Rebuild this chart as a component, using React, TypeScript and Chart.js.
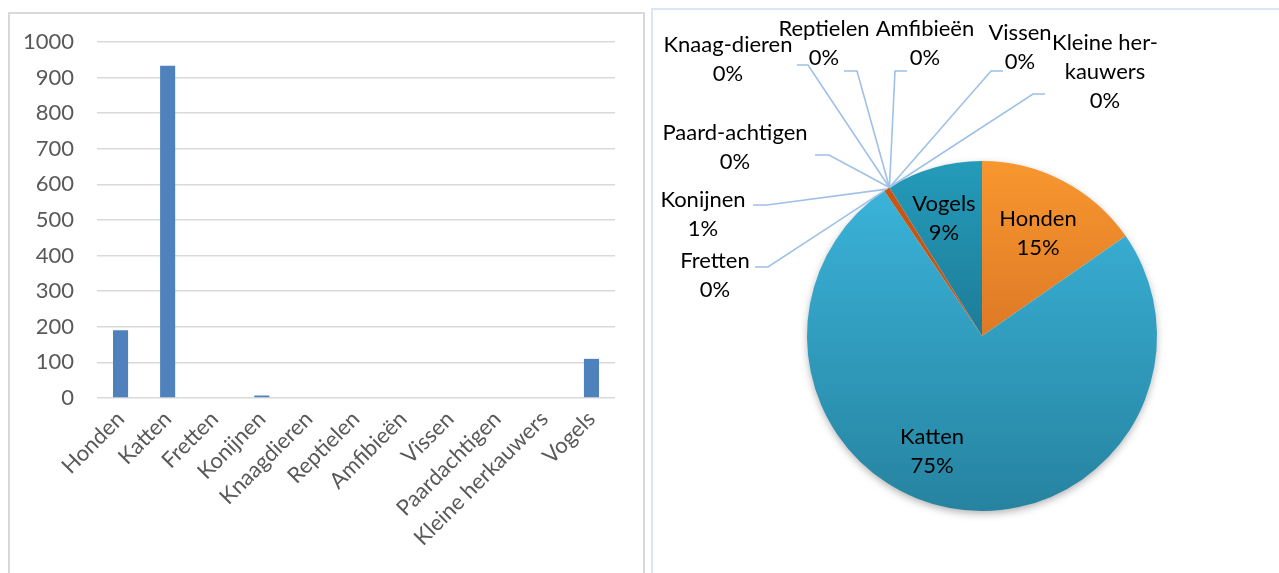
import React, { useEffect, useRef } from "react";
import { Chart, registerables } from "chart.js";

Chart.register(...registerables);

// ---------- data ----------
const categories = [
  "Honden",
  "Katten",
  "Fretten",
  "Konijnen",
  "Knaagdieren",
  "Reptielen",
  "Amfibieën",
  "Vissen",
  "Paardachtigen",
  "Kleine herkauwers",
  "Vogels",
];
const counts = [190, 933, 0, 7, 0, 0, 0, 0, 0, 0, 110];
const yTicks = [0, 100, 200, 300, 400, 500, 600, 700, 800, 900, 1000];
const pieLabelLines = [
  ["Honden"],
  ["Katten"],
  ["Fretten"],
  ["Konijnen"],
  ["Knaag-dieren"],
  ["Reptielen"],
  ["Amfibieën"],
  ["Vissen"],
  ["Paard-achtigen"],
  ["Kleine her-", "kauwers"],
  ["Vogels"],
];

// ---------- styles / layout ----------
const FONT = "Lato";
const barColor = "#4f81bd";
// gradient colours per slice [top, bottom]
const sliceGradients: [string, string][] = [
  ["#f8972f", "#c45b1c"],
  ["#3cb7de", "#2683a0"],
  ["#c55a11", "#c55a11"],
  ["#c85512", "#c85512"],
  ["#8a8a8a", "#8a8a8a"],
  ["#8a8a8a", "#8a8a8a"],
  ["#8a8a8a", "#8a8a8a"],
  ["#8a8a8a", "#8a8a8a"],
  ["#8a8a8a", "#8a8a8a"],
  ["#8a8a8a", "#8a8a8a"],
  ["#249bba", "#165d75"],
];
// label placement relative to pie centre: text centre (first line) and leader elbow segment [x1, x2, y]
const labelLayout: { tx: number; ty: number; seg?: [number, number, number] }[] = [
  { tx: 56, ty: -117 },
  { tx: -50, ty: 101 },
  { tx: -267, ty: -75, seg: [-227, -214, -69] },
  { tx: -279, ty: -136, seg: [-229, -215, -131] },
  { tx: -254, ty: -291, seg: [-185, -174, -271] },
  { tx: -158, ty: -307, seg: [-138, -125, -265] },
  { tx: -57, ty: -307, seg: [-75, -87, -265] },
  { tx: 38, ty: -303, seg: [21, 9, -265] },
  { tx: -247, ty: -203, seg: [-167, -153, -181] },
  { tx: 123, ty: -293, seg: [63, 51, -242] },
  { tx: -38, ty: -132 },
];

function BarChart() {
  const ref = useRef<HTMLCanvasElement>(null);
  useEffect(() => {
    const chart = new Chart(ref.current!, {
      type: "bar",
      data: {
        labels: categories,
        datasets: [
          {
            data: counts,
            backgroundColor: barColor,
            categoryPercentage: 1,
            barPercentage: 0.32,
          },
        ],
      },
      options: {
        animation: false,
        responsive: false,
        devicePixelRatio: 1,
        layout: { padding: { top: 28, right: 28, left: 0, bottom: 0 } },
        plugins: { legend: { display: false }, tooltip: { enabled: false } },
        scales: {
          x: {
            grid: { display: false, drawTicks: false },
            border: { display: false },
            ticks: {
              color: "#595959",
              font: { family: FONT, size: 22 },
              maxRotation: 45,
              minRotation: 45,
              autoSkip: false,
              padding: 8,
            },
            afterFit: (s: any) => {
              s.height = 175;
            },
          },
          y: {
            min: 0,
            max: 1000,
            grid: { color: "#d9d9d9", lineWidth: 1.6, drawTicks: false },
            border: { display: false },
            afterBuildTicks: (s: any) => {
              s.ticks = yTicks.map((v) => ({ value: v }));
            },
            ticks: {
              color: "#595959",
              font: { family: FONT, size: 22 },
              padding: 23,
              callback: (v: any) => String(v),
            },
            afterFit: (s: any) => {
              s.width = 87;
              s.paddingTop = 0;
              s.paddingBottom = 0;
            },
          },
        },
      },
    } as any);
    return () => chart.destroy();
  }, []);
  return (
    <canvas
      ref={ref}
      width={633}
      height={559}
      style={{ position: "absolute", left: 10, top: 14, width: 633, height: 559 }}
    />
  );
}

function PieChart() {
  const ref = useRef<HTMLCanvasElement>(null);
  useEffect(() => {
    const total = counts.reduce((a, b) => a + b, 0);
    const gradFor = (ctx: any) => {
      const chart = ctx.chart;
      const i = ctx.dataIndex ?? 0;
      const area = chart.chartArea;
      const [c1, c2] = sliceGradients[i];
      if (!area) return c1;
      const g = chart.ctx.createLinearGradient(0, area.top, 0, area.bottom);
      g.addColorStop(0, c1);
      g.addColorStop(1, c2);
      return g;
    };
    const labelPlugin = {
      id: "pieLabels",
      beforeDatasetsDraw(chart: any) {
        const meta = chart.getDatasetMeta(0);
        const a = meta.data[0];
        if (!a) return;
        const c = chart.ctx;
        c.save();
        c.shadowColor = "rgba(0,0,0,0.35)";
        c.shadowBlur = 8;
        c.shadowOffsetY = 3;
        c.fillStyle = "#ffffff";
        c.beginPath();
        c.arc(a.x, a.y, a.outerRadius - 1, 0, Math.PI * 2);
        c.fill();
        c.restore();
      },
      afterDatasetsDraw(chart: any) {
        const meta = chart.getDatasetMeta(0);
        const c = chart.ctx;
        c.save();
        meta.data.forEach((arc: any, i: number) => {
          const lay = labelLayout[i];
          const cx = arc.x;
          const cy = arc.y;
          if (lay.seg) {
            const ang = (arc.startAngle + arc.endAngle) / 2;
            const ax = cx + arc.outerRadius * Math.cos(ang);
            const ay = cy + arc.outerRadius * Math.sin(ang);
            c.strokeStyle = "#9fc0e8";
            c.lineWidth = 1.6;
            c.beginPath();
            c.moveTo(cx + lay.seg[0], cy + lay.seg[2]);
            c.lineTo(cx + lay.seg[1], cy + lay.seg[2]);
            c.lineTo(ax, ay);
            c.stroke();
          }
        });
        c.fillStyle = "#000000";
        c.font = `22px ${FONT}`;
        c.textAlign = "center";
        c.textBaseline = "middle";
        meta.data.forEach((arc: any, i: number) => {
          const lay = labelLayout[i];
          const pct = Math.round((counts[i] / total) * 100) + "%";
          const lines = [...pieLabelLines[i], pct];
          lines.forEach((t, k) => {
            c.fillText(t, arc.x + lay.tx, arc.y + lay.ty + k * 29);
          });
        });
        c.restore();
      },
    };
    const chart = new Chart(ref.current!, {
      type: "pie",
      data: {
        labels: pieLabelLines.map((l) => l.join("")),
        datasets: [
          {
            data: counts,
            backgroundColor: gradFor,
            borderWidth: 0,
          },
        ],
      },
      options: {
        animation: false,
        responsive: false,
        devicePixelRatio: 1,
        layout: { padding: { left: 154, top: 151, right: 122, bottom: 62 } },
        plugins: { legend: { display: false }, tooltip: { enabled: false } },
      },
      plugins: [labelPlugin],
    } as any);
    return () => chart.destroy();
  }, []);
  return (
    <canvas
      ref={ref}
      width={626}
      height={563}
      style={{ position: "absolute", left: 653, top: 10, width: 626, height: 563 }}
    />
  );
}

export default function App() {
  return (
    <div
      style={{
        position: "absolute",
        left: 0,
        top: 0,
        width: 1279,
        height: 573,
        overflow: "hidden",
        background: "#ffffff",
      }}
    >
      <div
        style={{
          position: "absolute",
          left: 8,
          top: 12,
          width: 637,
          height: 620,
          boxSizing: "border-box",
          border: "2px solid #d9d9d9",
        }}
      />
      <div
        style={{
          position: "absolute",
          left: 651,
          top: 8,
          width: 660,
          height: 620,
          boxSizing: "border-box",
          border: "2px solid #dae6f5",
        }}
      />
      <BarChart />
      <PieChart />
    </div>
  );
}
